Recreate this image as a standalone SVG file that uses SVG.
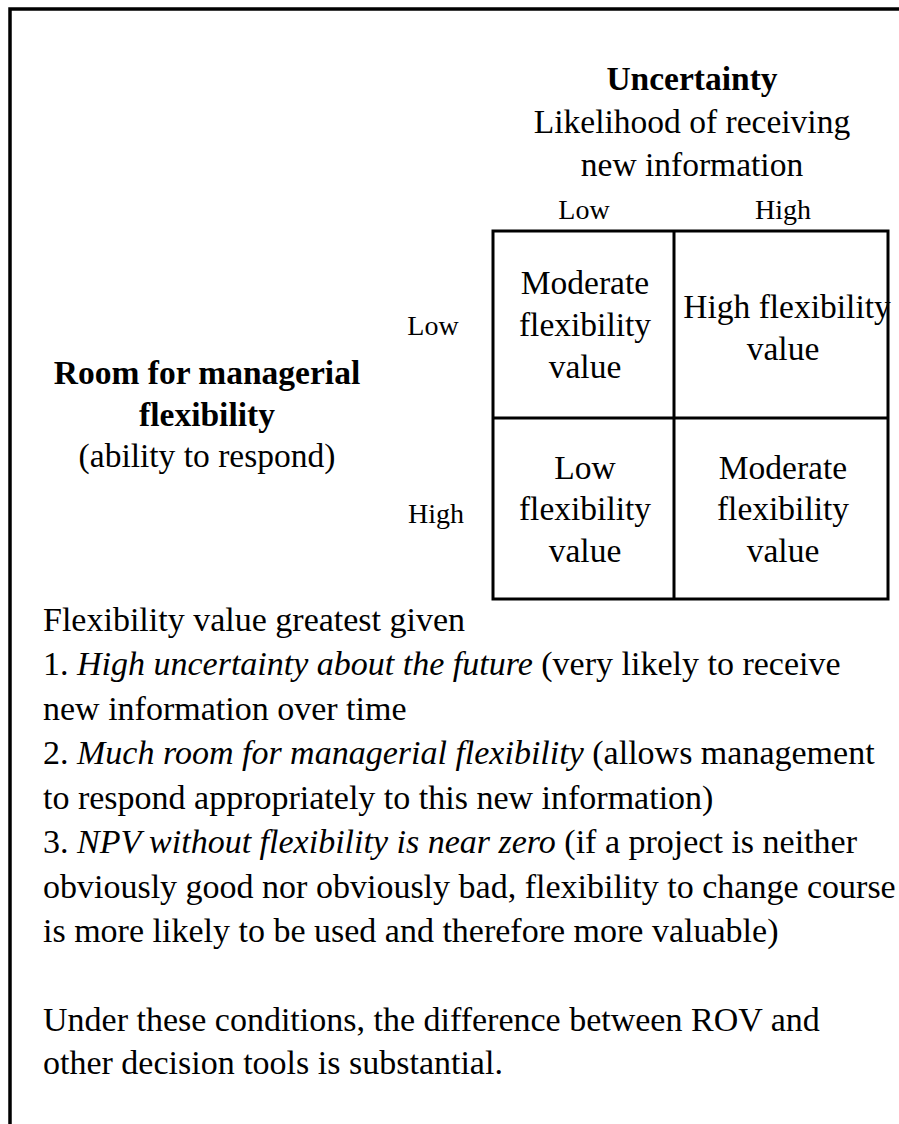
<svg xmlns="http://www.w3.org/2000/svg" width="899" height="1124" viewBox="0 0 899 1124">
  <style>
    text { font-family: "Liberation Serif", "Times New Roman", serif; fill: #000; }
    .title { font-size: 33.5px; font-weight: bold; text-anchor: middle; }
    .sub { font-size: 33.5px; text-anchor: middle; }
    .axis { font-size: 28px; text-anchor: middle; }
    .cell { font-size: 33.5px; text-anchor: middle; }
    .body { font-size: 34px; }
    .line { stroke: #000; stroke-width: 3; fill: none; }
    .frame { stroke: #000; stroke-width: 3.5; fill: none; }
  </style>

  <!-- frame -->
  <path class="frame" d="M10 1124 V9 H899"/>

  <!-- column axis: uncertainty -->
  <g id="uncertainty-label">
    <text class="title" x="692" y="90">Uncertainty</text>
    <text class="sub" x="692" y="133">Likelihood of receiving</text>
    <text class="sub" x="692" y="176">new information</text>
  </g>
  <g id="col-low"><text class="axis" x="584" y="219">Low</text></g>
  <g id="col-high"><text class="axis" x="783" y="219">High</text></g>

  <!-- row axis: managerial flexibility -->
  <g id="flexibility-label">
    <text class="title" x="207" y="384">Room for managerial</text>
    <text class="title" x="207" y="426">flexibility</text>
    <text class="sub" x="207" y="467">(ability to respond)</text>
  </g>
  <g id="row-low"><text class="axis" x="433" y="335">Low</text></g>
  <g id="row-high"><text class="axis" x="436" y="523">High</text></g>

  <!-- 2x2 grid -->
  <g id="grid">
    <rect class="line" x="493" y="231" width="395" height="368"/>
    <line class="line" x1="674" y1="231" x2="674" y2="599"/>
    <line class="line" x1="493" y1="418" x2="888" y2="418"/>
  </g>

  <g id="cell-low-low">
    <text class="cell" x="585" y="294">Moderate</text>
    <text class="cell" x="585" y="336">flexibility</text>
    <text class="cell" x="585" y="378">value</text>
  </g>
  <g id="cell-low-high">
    <text class="cell" x="787" y="318">High flexibility</text>
    <text class="cell" x="783" y="360">value</text>
  </g>
  <g id="cell-high-low">
    <text class="cell" x="585" y="479">Low</text>
    <text class="cell" x="585" y="520">flexibility</text>
    <text class="cell" x="585" y="562">value</text>
  </g>
  <g id="cell-high-high">
    <text class="cell" x="783" y="479">Moderate</text>
    <text class="cell" x="783" y="520">flexibility</text>
    <text class="cell" x="783" y="562">value</text>
  </g>

  <!-- explanatory notes -->
  <g id="notes">
    <text class="body" x="43" y="631">Flexibility value greatest given</text>
    <text class="body" x="43" y="675">1. <tspan font-style="italic">High uncertainty about the future</tspan> (very likely to receive</text>
    <text class="body" x="43" y="720">new information over time</text>
    <text class="body" x="43" y="764">2. <tspan font-style="italic">Much room for managerial flexibility</tspan> (allows management</text>
    <text class="body" x="43" y="809">to respond appropriately to this new information)</text>
    <text class="body" x="43" y="853">3. <tspan font-style="italic">NPV without flexibility is near zero</tspan> (if a project is neither</text>
    <text class="body" x="43" y="898">obviously good nor obviously bad, flexibility to change course</text>
    <text class="body" x="43" y="942">is more likely to be used and therefore more valuable)</text>
    <text class="body" x="43" y="1031">Under these conditions, the difference between ROV and</text>
    <text class="body" x="43" y="1074">other decision tools is substantial.</text>
  </g>
</svg>
